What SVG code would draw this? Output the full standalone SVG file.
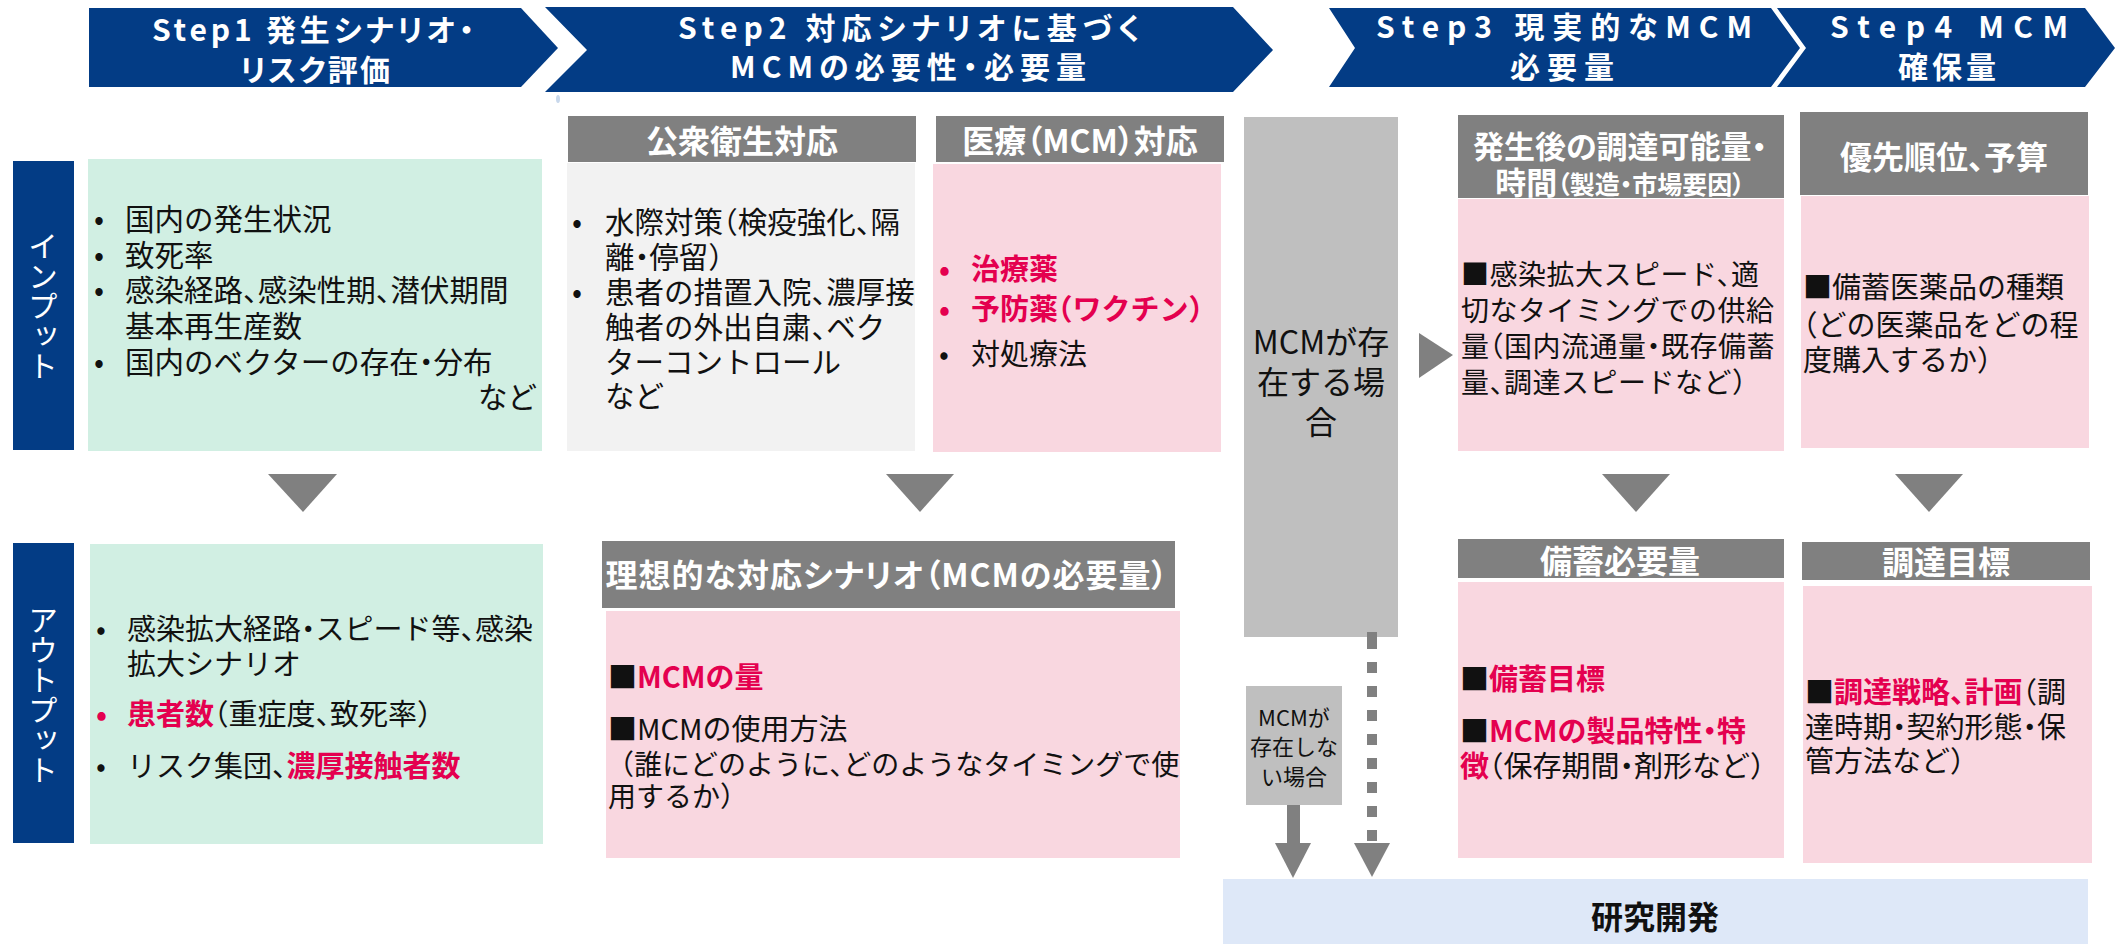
<svg xmlns="http://www.w3.org/2000/svg" width="2115" height="944" viewBox="0 0 2115 944">
<style>
text{font-family:"Noto Sans CJK JP","Noto Sans",sans-serif;}
.chev{fill:#033C85;}
.step{font-size:30px;font-weight:bold;fill:#fff;text-anchor:middle;font-feature-settings:"palt";}
.side{fill:#033C85;}
.vt{font-size:30px;fill:#fff;writing-mode:vertical-rl;text-anchor:middle;}
.hdr{fill:#808080;}
.ht{font-size:32px;font-weight:bold;fill:#fff;text-anchor:middle;font-feature-settings:"palt";}
.green{fill:#D1EFE3;}
.lgray{fill:#F2F2F2;}
.pink{fill:#F9D7E0;}
.col{fill:#BFBFBF;}
.tx{font-size:29px;fill:#111;font-feature-settings:"halt";}
.r{fill:#E4004F;font-weight:bold;}
.conn{fill:#808080;}
</style>

<g id="step1"><path class="chev" d="M89,8 L521,8 L558,48 L521,87 L89,87 Z"/><text class="step" x="313" y="41" textLength="322" lengthAdjust="spacing">Step1  発生シナリオ・</text><text class="step" x="315" y="81" textLength="150" lengthAdjust="spacing">リスク評価</text></g>
<g id="step2"><path class="chev" d="M545,7 L1233,7 L1273,50 L1233,92 L545,92 L587,50 Z"/><text class="step" x="909" y="39" textLength="462" lengthAdjust="spacing">Step2  対応シナリオに基づく</text><text class="step" x="908" y="78" textLength="356" lengthAdjust="spacing">MCMの必要性・必要量</text></g>
<ellipse cx="558" cy="99" rx="2" ry="4" fill="#C8D8EC"/>
<g id="step3"><path class="chev" d="M1329,8 L1771,8 L1800,48 L1771,87 L1329,87 L1355,48 Z"/><text class="step" x="1564" y="38" textLength="376" lengthAdjust="spacing">Step3  現実的なMCM</text><text class="step" x="1562" y="78" textLength="104" lengthAdjust="spacing">必要量</text></g>
<g id="step4"><path class="chev" d="M1777,8 L2085,8 L2115,48 L2085,87 L1777,87 L1806,48 Z"/><text class="step" x="1949" y="38" textLength="238" lengthAdjust="spacing">Step4  MCM</text><text class="step" x="1947" y="78" textLength="98" lengthAdjust="spacing">確保量</text></g>

<g id="input-label"><rect class="side" x="13" y="161" width="61" height="289"/><text class="vt" x="43" y="306">インプット</text></g>
<g id="output-label"><rect class="side" x="13" y="543" width="61" height="300"/><text class="vt" x="43" y="695">アウトプット</text></g>

<g id="step1-input"><rect class="green" x="88" y="159" width="454" height="292"/>
<text class="tx" style="font-size:29.5px"><tspan x="94" y="230">•</tspan><tspan x="125" y="230">国内の発生状況</tspan><tspan x="94" y="266">•</tspan><tspan x="125" y="266">致死率</tspan><tspan x="94" y="301">•</tspan><tspan x="125" y="301">感染経路、感染性期、潜伏期間</tspan><tspan x="125" y="337">基本再生産数</tspan><tspan x="94" y="373">•</tspan><tspan x="125" y="373">国内のベクターの存在・分布</tspan></text>
<text class="tx" x="537" y="408" text-anchor="end" style="font-size:29.5px">など</text></g>

<g id="public-health"><rect class="hdr" x="568" y="116" width="348" height="46"/><text class="ht" x="742" y="153">公衆衛生対応</text>
<rect class="lgray" x="567" y="163" width="348" height="288"/>
<text class="tx" style="font-size:29.5px"><tspan x="572" y="233">•</tspan><tspan x="605" y="233">水際対策（検疫強化、隔</tspan><tspan x="605" y="268">離・停留）</tspan><tspan x="572" y="303">•</tspan><tspan x="605" y="303">患者の措置入院、濃厚接</tspan><tspan x="605" y="338">触者の外出自粛、ベク</tspan><tspan x="605" y="373">ターコントロール</tspan><tspan x="605" y="407">など</tspan></text></g>

<g id="medical"><rect class="hdr" x="936" y="116" width="288" height="46"/><text class="ht" x="1080" y="153">医療（MCM）対応</text>
<rect class="pink" x="933" y="164" width="288" height="288"/>
<text class="tx"><tspan x="939" y="280" class="r">•</tspan><tspan x="971" y="280" class="r">治療薬</tspan><tspan x="939" y="320" class="r">•</tspan><tspan x="971" y="320" class="r">予防薬（ワクチン）</tspan><tspan x="939" y="365">•</tspan><tspan x="971" y="365">対処療法</tspan></text></g>

<g id="mcm-exists"><rect class="col" x="1244" y="117" width="154" height="520"/>
<text class="tx" style="font-size:32px" text-anchor="middle"><tspan x="1321" y="354">MCMが存</tspan><tspan x="1321" y="394">在する場</tspan><tspan x="1321" y="434">合</tspan></text></g>

<g id="procurement"><rect class="hdr" x="1458" y="115" width="326" height="83"/>
<text class="ht" style="font-size:31px"><tspan x="1620" y="158">発生後の調達可能量・</tspan><tspan x="1620" y="194">時間<tspan style="font-size:25px">（製造・市場要因）</tspan></tspan></text>
<rect class="pink" x="1458" y="199" width="326" height="252"/>
<text class="tx" style="font-size:28px;letter-spacing:0.5px"><tspan x="1461" y="285">■感染拡大スピード、適</tspan><tspan x="1461" y="321">切なタイミングでの供給</tspan><tspan x="1461" y="357">量（国内流通量・既存備蓄</tspan><tspan x="1461" y="393">量、調達スピードなど）</tspan></text></g>

<g id="priority"><rect class="hdr" x="1800" y="112" width="288" height="83"/><text class="ht" x="1944" y="169">優先順位、予算</text>
<rect class="pink" x="1801" y="196" width="288" height="252"/>
<text class="tx"><tspan x="1803" y="298">■備蓄医薬品の種類</tspan><tspan x="1803" y="336">（どの医薬品をどの程</tspan><tspan x="1803" y="371">度購入するか）</tspan></text></g>

<g id="step1-output"><rect class="green" x="90" y="544" width="453" height="300"/>
<text class="tx"><tspan x="96" y="640">•</tspan><tspan x="127" y="640">感染拡大経路・スピード等、感染</tspan><tspan x="127" y="675">拡大シナリオ</tspan><tspan x="96" y="725" class="r">•</tspan><tspan x="127" y="725" class="r">患者数</tspan><tspan>（重症度、致死率）</tspan><tspan x="96" y="777">•</tspan><tspan x="127" y="777">リスク集団、</tspan><tspan class="r">濃厚接触者数</tspan></text></g>

<g id="ideal-scenario"><rect class="hdr" x="602" y="541" width="573" height="67"/><text class="ht" x="887" y="587" style="letter-spacing:1px">理想的な対応シナリオ（MCMの必要量）</text>
<rect class="pink" x="606" y="611" width="574" height="247"/>
<text class="tx"><tspan x="608" y="688">■</tspan><tspan class="r">MCMの量</tspan><tspan x="608" y="740">■MCMの使用方法</tspan></text>
<text class="tx" style="font-size:28px"><tspan x="620" y="775">（誰にどのように、どのようなタイミングで使</tspan><tspan x="608" y="807">用するか）</tspan></text></g>

<g id="mcm-not-exists"><rect class="col" x="1246" y="686" width="96" height="119"/>
<text class="tx" style="font-size:22px;font-feature-settings:normal" text-anchor="middle"><tspan x="1294" y="726">MCMが</tspan><tspan x="1294" y="755">存在しな</tspan><tspan x="1294" y="785">い場合</tspan></text></g>

<g id="stockpile"><rect class="hdr" x="1458" y="539" width="326" height="39"/><text class="ht" x="1620" y="573">備蓄必要量</text>
<rect class="pink" x="1458" y="582" width="326" height="276"/>
<text class="tx"><tspan x="1460" y="690">■</tspan><tspan class="r">備蓄目標</tspan><tspan x="1460" y="742">■</tspan><tspan class="r">MCMの製品特性・特</tspan><tspan x="1460" y="777" class="r">徴</tspan><tspan>（保存期間・剤形など）</tspan></text></g>

<g id="procurement-target"><rect class="hdr" x="1802" y="542" width="288" height="38"/><text class="ht" x="1946" y="574">調達目標</text>
<rect class="pink" x="1803" y="586" width="289" height="277"/>
<text class="tx"><tspan x="1805" y="703">■</tspan><tspan class="r">調達戦略、計画</tspan><tspan>（調</tspan><tspan x="1805" y="738">達時期・契約形態・保</tspan><tspan x="1805" y="772">管方法など）</tspan></text></g>

<g id="rnd"><rect x="1223" y="879" width="865" height="65" fill="#DEE8F8"/><text class="tx" x="1655" y="929" text-anchor="middle" style="font-size:32px;font-weight:bold">研究開発</text></g>

<g id="connectors">
<polygon class="conn" points="268,474 337,474 303,512"/>
<polygon class="conn" points="886,474 954,474 920,512"/>
<polygon class="conn" points="1602,474 1670,474 1636,512"/>
<polygon class="conn" points="1895,474 1963,474 1929,512"/>
<polygon class="conn" points="1419,333 1453,355 1419,378"/>
<rect class="conn" x="1287" y="805" width="13" height="40"/>
<polygon class="conn" points="1275,843 1311,843 1293,878"/>
<line x1="1372" y1="632" x2="1372" y2="845" stroke="#808080" stroke-width="10" stroke-dasharray="17 13 11 13 11 13 11 13 11 13 11 13 11 13 11 13 11 13 20"/>
<polygon class="conn" points="1354,843 1390,843 1372,877"/>
</g>
</svg>
